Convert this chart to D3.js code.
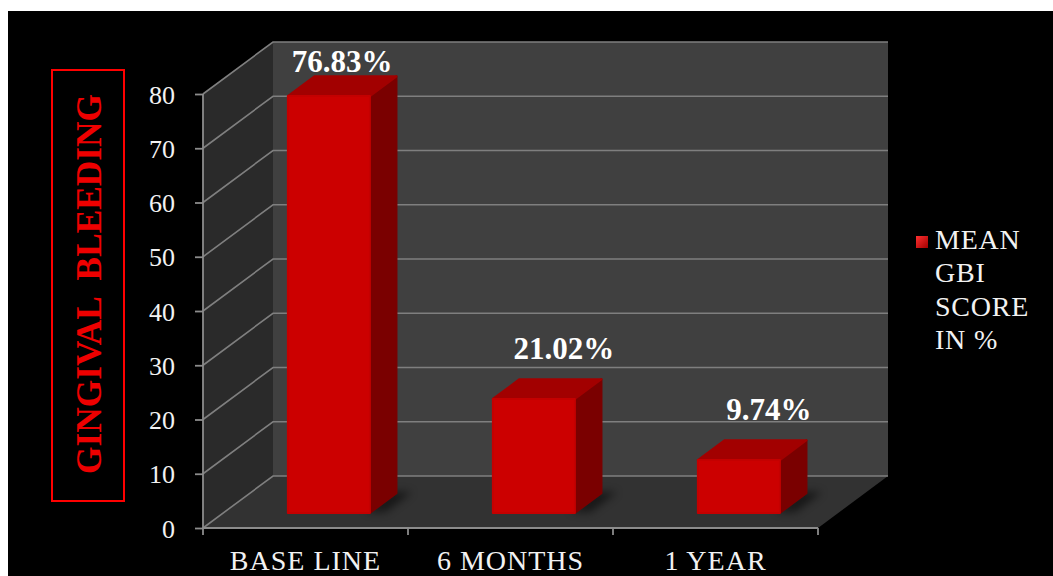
<!DOCTYPE html>
<html>
<head>
<meta charset="utf-8">
<script src="https://cdn.jsdelivr.net/npm/d3@7/dist/d3.min.js"></script>
<style>
  html, body { margin: 0; padding: 0; background: #ffffff; }
  svg { display: block; }
</style>
</head>
<body>
<svg id="chart" width="1053" height="576"></svg>
<script>
// ---- data ----
const categories = ["BASE LINE", "6 MONTHS", "1 YEAR"];
const gbiValues = [76.83, 21.02, 9.74];
const valueLabels = ["76.83%", "21.02%", "9.74%"];
const yTicks = [0, 10, 20, 30, 40, 50, 60, 70, 80];
const legendLines = ["MEAN", "GBI", "SCORE", "IN %"];
const axisTitle = "GINGIVAL  BLEEDING";

// ---- layout ----
const W = 1053, H = 576;
const FONT = "'Liberation Serif', 'Times New Roman', serif";
const front = { left: 203, right: 818, top: 94, bottom: 528 };
const depth = { dx: 70, dy: -52 };          // projection of the full depth
const barDepth = [0.29, 0.67];              // bar front/back as fraction of depth

const svg = d3.select("#chart");

const x = d3.scaleBand().domain(categories).range([front.left, front.right]);
const y = d3.scaleLinear().domain([0, 80]).range([front.bottom, front.top]);

// project a point on the front plane back by depth fraction d
const P = (px, py, d) => [px + depth.dx * d, py + depth.dy * d];
const poly = pts => "M" + pts.map(p => p.join(",")).join("L") + "Z";

// page backdrop
svg.append("rect").attr("x", 8).attr("y", 11).attr("width", W - 8).attr("height", H - 11).attr("fill", "#000");

const defs = svg.append("defs");
defs.append("filter").attr("id", "shadowBlur").attr("x", "-50%").attr("y", "-50%").attr("width", "200%").attr("height", "200%")
  .append("feGaussianBlur").attr("stdDeviation", 4);
const lg = defs.append("linearGradient").attr("id", "legendGrad").attr("x1", 0).attr("y1", 0).attr("x2", 1).attr("y2", 1);
lg.append("stop").attr("offset", 0).attr("stop-color", "#ff3030");
lg.append("stop").attr("offset", 1).attr("stop-color", "#a00000");

// ---- walls ----
const y0 = y(0), yTop = y(80);
svg.append("path").attr("fill", "#2a2a2a")
  .attr("d", poly([[front.left, yTop], P(front.left, yTop, 1), P(front.left, y0, 1), [front.left, y0]]));
svg.append("path").attr("fill", "#404040")
  .attr("d", poly([P(front.left, yTop, 1), P(front.right, yTop, 1), P(front.right, y0, 1), P(front.left, y0, 1)]));
svg.append("path").attr("fill", "#323232")
  .attr("d", poly([[front.left, y0], P(front.left, y0, 1), P(front.right, y0, 1), [front.right, y0]]));

// ---- gridlines ----
const grid = svg.append("g").attr("stroke", "#7f7f7f").attr("stroke-width", 1.6).attr("fill", "none");
yTicks.forEach(t => {
  const yy = y(t);
  grid.append("path").attr("d", "M" + [front.left, yy].join(",") + "L" + P(front.left, yy, 1).join(",") + "L" + P(front.right, yy, 1).join(","));
});

// ---- axes ----
const axisCol = "#8c8c8c";
svg.append("line").attr("x1", front.left).attr("x2", front.left).attr("y1", yTop).attr("y2", y0)
  .attr("stroke", axisCol).attr("stroke-width", 1.8);
svg.append("line").attr("x1", front.left).attr("x2", front.right).attr("y1", y0).attr("y2", y0)
  .attr("stroke", axisCol).attr("stroke-width", 1.8);

const yAxis = d3.axisLeft(y).tickValues(yTicks).tickSize(8).tickPadding(20);
const gy = svg.append("g").attr("transform", `translate(${front.left},0)`).call(yAxis);
gy.select(".domain").remove();
gy.selectAll(".tick line").attr("stroke", axisCol).attr("stroke-width", 1.8);
gy.selectAll(".tick text").attr("fill", "#f2f2f2").attr("font-family", FONT).attr("font-size", 26)
  .attr("dy", "0.35em");

// category ticks at band edges
const edges = categories.map(c => x(c)).concat([front.right]);
svg.append("g").selectAll("line").data(edges).join("line")
  .attr("x1", d => d).attr("x2", d => d).attr("y1", y0).attr("y2", y0 + 7)
  .attr("stroke", axisCol).attr("stroke-width", 1.8);

svg.append("g").selectAll("text").data(categories).join("text")
  .attr("x", d => x(d) + x.bandwidth() / 2).attr("y", 570)
  .attr("text-anchor", "middle").attr("fill", "#f2f2f2")
  .attr("font-family", FONT).attr("font-size", 28).attr("letter-spacing", 1)
  .text(d => d);

// ---- bars ----
const barW = x.bandwidth() * 0.40;
const barOff = x.bandwidth() * 0.315;
const bars = svg.append("g");
const ceiling = P(0, yTop, 1)[1] + 30;
categories.forEach((c, i) => {
  const v = gbiValues[i];
  const xl = x(c) + barOff, xr = xl + barW;
  const yb = y(0), yt = y(v);
  const [d0, d1] = barDepth;
  // floor shadow
  bars.append("path").attr("fill", "#000").attr("opacity", 0.55).attr("filter", "url(#shadowBlur)")
    .attr("d", poly([P(xr - 6, yb, d0 + 0.02), P(xr + 14, yb, d0 + 0.02), P(xr + 14, yb, d1 + 0.02), P(xr - 6, yb, d1 + 0.02)]));
  // side face
  bars.append("path").attr("fill", "#7a0000").attr("stroke", "#7a0000").attr("stroke-linejoin", "round").attr("stroke-width", 2)
    .attr("d", poly([P(xr, yb, d0), P(xr, yb, d1), P(xr, yt, d1), P(xr, yt, d0)]));
  // top face
  bars.append("path").attr("fill", "#a20000").attr("stroke", "#a20000").attr("stroke-linejoin", "round").attr("stroke-width", 2)
    .attr("d", poly([P(xl, yt, d0), P(xr, yt, d0), P(xr, yt, d1), P(xl, yt, d1)]));
  // front face
  bars.append("path").attr("fill", "#cc0000").attr("stroke", "#c40000").attr("stroke-linejoin", "round").attr("stroke-width", 2)
    .attr("d", poly([P(xl, yb, d0), P(xr, yb, d0), P(xr, yt, d0), P(xl, yt, d0)]));

  // value label above the bar; labels that reach the ceiling sit nearer the front
  const backTop = P(0, yt, d1)[1];
  const clamped = backTop - 20 < ceiling;
  const labelY = clamped ? ceiling : backTop - 20;
  const lx = P((xl + xr) / 2, yt, clamped ? 0.48 : 0.72)[0];
  svg.append("text").attr("x", lx).attr("y", labelY)
    .attr("text-anchor", "middle").attr("fill", "#ffffff")
    .attr("font-family", FONT).attr("font-weight", "bold").attr("font-size", 31)
    .text(valueLabels[i]);
});

// ---- y axis title in a red box ----
svg.append("rect").attr("x", 52).attr("y", 70).attr("width", 72).attr("height", 431)
  .attr("fill", "none").attr("stroke", "#ff0000").attr("stroke-width", 2);
svg.append("text")
  .attr("transform", "translate(101,284) rotate(-90)")
  .attr("text-anchor", "middle").attr("fill", "#ee0000")
  .attr("font-family", FONT).attr("font-weight", "bold").attr("font-size", 36)
  .attr("textLength", 380).attr("lengthAdjust", "spacingAndGlyphs")
  .style("white-space", "pre")
  .text(axisTitle);

// ---- legend ----
svg.append("rect").attr("x", 916).attr("y", 236).attr("width", 12).attr("height", 12).attr("fill", "url(#legendGrad)");
svg.append("g").selectAll("text").data(legendLines).join("text")
  .attr("x", 935).attr("y", (d, i) => 249 + i * 33.3)
  .attr("fill", "#f2f2f2").attr("font-family", FONT).attr("font-size", 28).attr("letter-spacing", 0.8)
  .text(d => d);
</script>
</body>
</html>
